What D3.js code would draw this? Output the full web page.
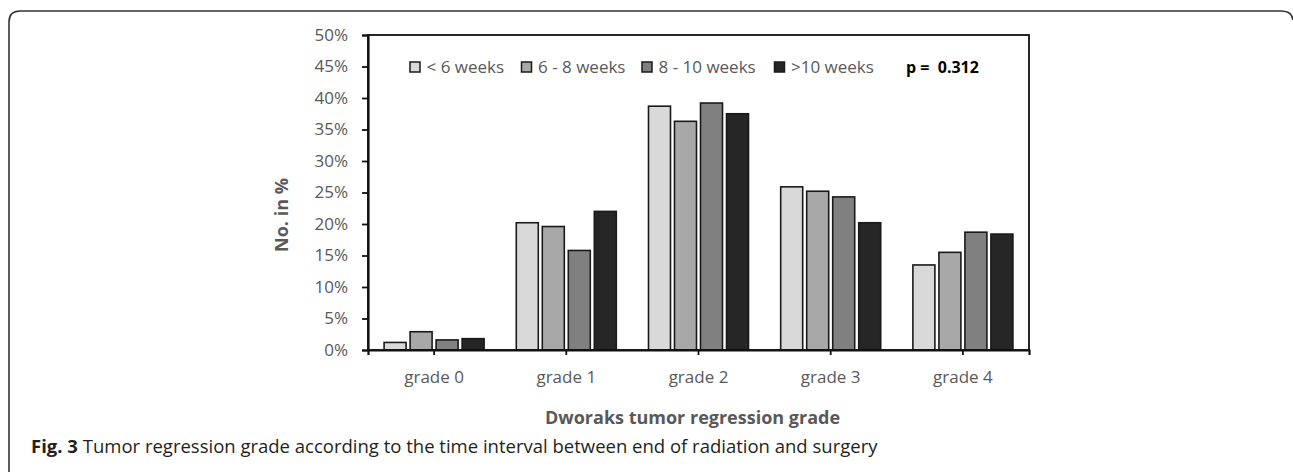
<!DOCTYPE html>
<html><head><meta charset="utf-8">
<script src="https://cdn.jsdelivr.net/npm/d3@7"></script>
<style>html,body{margin:0;padding:0;background:#fff;}svg{display:block;}</style>
</head><body>
<svg id="c" width="1293" height="472"></svg>
<script>
const categories = ["grade 0", "grade 1", "grade 2", "grade 3", "grade 4"];
const seriesNames = ["< 6 weeks", "6 - 8 weeks", "8 - 10 weeks", ">10 weeks"];
const lt6 = [1.2, 20.2, 38.7, 25.9, 13.5];
const w6to8 = [2.9, 19.6, 36.3, 25.2, 15.5];
const w8to10 = [1.6, 15.8, 39.2, 24.3, 18.7];
const gt10 = [1.8, 22.0, 37.5, 20.2, 18.4];
const yTicks = [0, 5, 10, 15, 20, 25, 30, 35, 40, 45, 50];
const seriesColors = ["#d9d9d9", "#a8a8a8", "#808080", "#262626"];
const series = [lt6, w6to8, w8to10, gt10];

const svg = d3.select("#c");
const L = 368, R = 1029, T = 35, B = 350;
const gray = "#595959";
const font = "'Open Sans', sans-serif";

// outer figure frame
svg.append("path")
  .attr("d", "M9,472 L9,22 Q9,11 20,11 L1281,11 Q1292,11 1293,20")
  .attr("fill", "none").attr("stroke", "#333").attr("stroke-width", 1.6);

const y = d3.scaleLinear().domain([0, 50]).range([B, T]);
const x = d3.scaleBand().domain(categories).range([L, R]).paddingInner(0.2435).paddingOuter(0.1217);
const xs = d3.scaleBand().domain(seriesNames).range([0, x.bandwidth()]).paddingInner(0.154);

// bars
const rows = [];
categories.forEach((c, i) => seriesNames.forEach((s, j) => rows.push({c, s, j, v: series[j][i]})));
svg.append("g").selectAll("rect").data(rows).join("rect")
  .attr("x", d => x(d.c) + xs(d.s))
  .attr("y", d => y(d.v))
  .attr("width", xs.bandwidth())
  .attr("height", d => B - y(d.v))
  .attr("fill", d => seriesColors[d.j])
  .attr("stroke", "#1a1a1a").attr("stroke-width", 1.6);

// plot frame
svg.append("rect").attr("x", L).attr("y", T).attr("width", R - L).attr("height", B - T)
  .attr("fill", "none").attr("stroke", "#111").attr("stroke-width", 1.8);

// y axis
const yAxis = svg.append("g").attr("transform", `translate(${L},0)`)
  .call(d3.axisLeft(y).tickValues(yTicks).tickFormat(d => d + "%").tickSize(6).tickPadding(14));
yAxis.select(".domain").attr("stroke", "#111").attr("stroke-width", 2.2);
yAxis.selectAll(".tick line").attr("stroke", "#111").attr("stroke-width", 1.8);
yAxis.selectAll("text").attr("fill", gray).style("font-family", font).style("font-size", "17px");

// x axis
const xCenter = d3.scaleBand().domain(categories).range([L, R]);
const xAxis = svg.append("g").attr("transform", `translate(0,${B})`)
  .call(d3.axisBottom(xCenter).tickSize(5).tickPadding(16));
xAxis.select(".domain").attr("stroke", "#111").attr("stroke-width", 2.2);
xAxis.selectAll(".tick line").attr("stroke", "#111").attr("stroke-width", 1.8);
xAxis.selectAll("text").attr("fill", gray).style("font-family", font).style("font-size", "17px");

// legend
const legX = [410, 521.5, 642, 774.5];
const leg = svg.append("g");
seriesNames.forEach((s, j) => {
  leg.append("rect").attr("x", legX[j]).attr("y", 62).attr("width", 10).attr("height", 10)
    .attr("fill", seriesColors[j]).attr("stroke", "#1a1a1a").attr("stroke-width", 1.5);
  leg.append("text").attr("x", legX[j] + 16.5).attr("y", 73).text(s)
    .attr("fill", gray).style("font-family", font).style("font-size", "17px");
});
svg.append("text").attr("x", 906).attr("y", 73).text("p =  0.312")
  .attr("fill", "#000").style("font-family", font).style("font-size", "16px").style("font-weight", "bold")
  .attr("xml:space", "preserve").style("white-space", "pre");

// axis titles
svg.append("text").attr("transform", "translate(288,215) rotate(-90)").attr("text-anchor", "middle")
  .text("No. in %").attr("fill", gray).style("font-family", font).style("font-size", "18px").style("font-weight", "bold");
svg.append("text").attr("x", 692.5).attr("y", 424).attr("text-anchor", "middle")
  .text("Dworaks tumor regression grade").attr("fill", gray).style("font-family", font).style("font-size", "18px").style("font-weight", "bold");

// caption
const cap = svg.append("text").attr("x", 31).attr("y", 453).style("font-family", font).style("font-size", "18.5px").attr("fill", "#231f20");
cap.append("tspan").text("Fig. 3").style("font-weight", "bold");
cap.append("tspan").text(" Tumor regression grade according to the time interval between end of radiation and surgery");
</script>
</body></html>
